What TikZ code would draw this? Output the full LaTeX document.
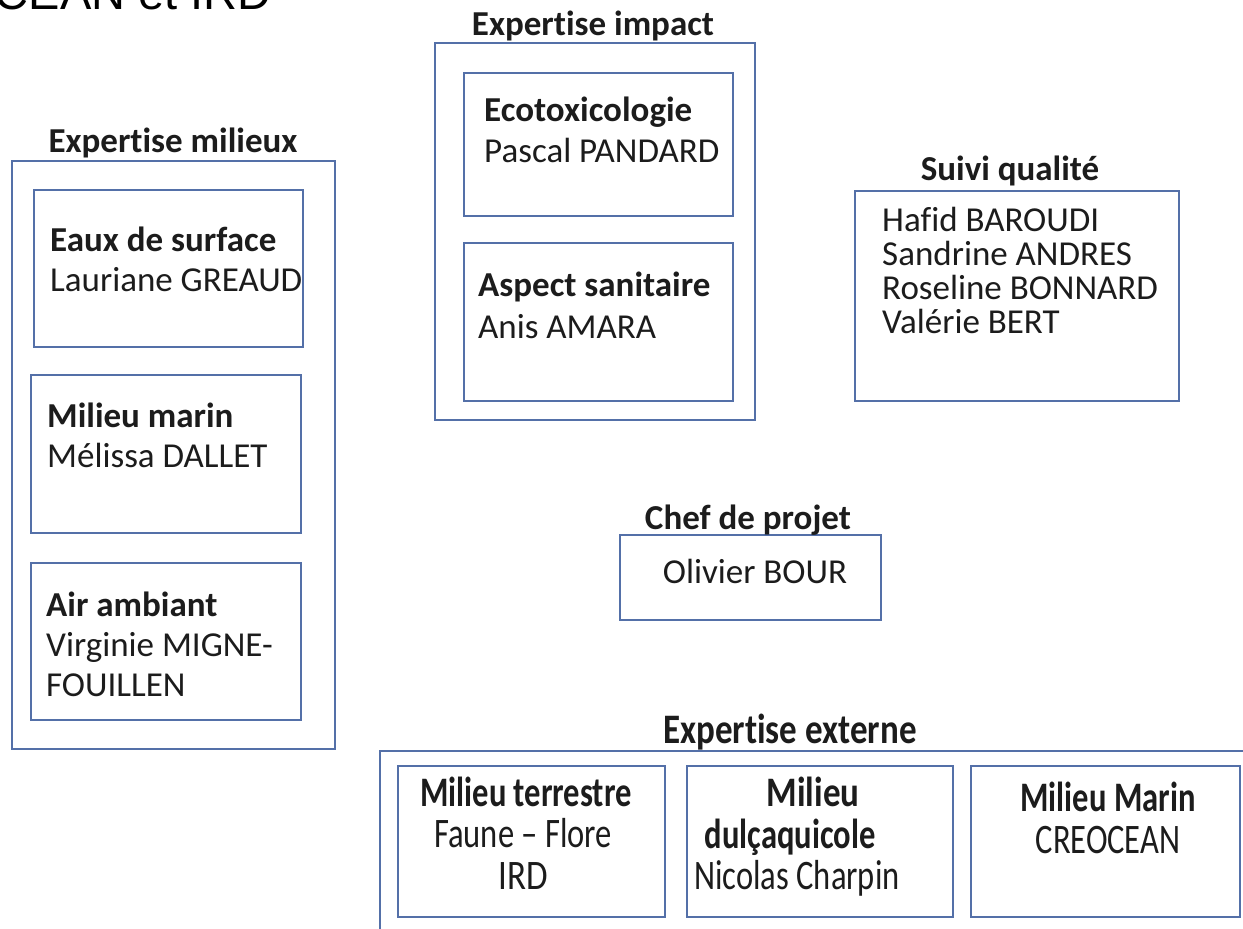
\documentclass[tikz,border=0pt]{standalone}
\usepackage{fontspec}
\setmainfont{Carlito}[Ligatures={NoCommon}]
\newfontfamily\arialfont{Liberation Sans}
\definecolor{boxblue}{RGB}{84,112,168}
\definecolor{txt}{RGB}{28,28,28}
\tikzset{
  frame/.style={draw=boxblue, line width=2pt, inner sep=0pt, anchor=north west},
  lbl/.style={anchor=base west, inner sep=0pt, text=txt, font=\fontsize{35}{41}\selectfont},
  clbl/.style={anchor=base, inner sep=0pt, text=txt, font=\fontsize{35}{41}\selectfont},
  ttl/.style={anchor=base, inner sep=0pt, text=txt, font=\fontsize{35}{41}\selectfont\bfseries},
}
\newcommand{\tall}[1]{\scalebox{1}[1.2]{#1}}
\newcommand{\tallnarrow}[1]{\scalebox{0.93}[1.2]{#1}}
\begin{document}
\begin{tikzpicture}[x=1pt,y=-1pt]
\useasboundingbox (0,0) rectangle (1243,929);
\clip (0,0) rectangle (1243,929);
\fill[white] (0,0) rectangle (1243,929);

% cut-off fragment at top left
\node[anchor=base east, inner sep=0pt, text=black, font=\arialfont\fontsize{47}{52}\selectfont] (frag) at (272,9) {CEAN et IRD};

% Expertise milieux
\node[ttl] (tmil) at (173,152) {Expertise milieux};
\node[frame, minimum width=323pt, minimum height=588pt] (milieux) at (11,160) {};
\node[frame, minimum width=269pt, minimum height=157pt] (eaux) at (33,189) {};
\node[frame, minimum width=270pt, minimum height=158pt] (marin) at (30,374) {};
\node[frame, minimum width=270pt, minimum height=157pt] (air) at (30,562) {};
\node[lbl] (eaux1) at (50,251) {\bfseries Eaux de surface};
\node[lbl] (eaux2) at (50,291) {Lauriane GREAUD};
\node[lbl] (marin1) at (47,427) {\bfseries Milieu marin};
\node[lbl] (marin2) at (47,467) {Mélissa DALLET};
\node[lbl] (air1) at (46,616) {\bfseries Air ambiant};
\node[lbl] (air2) at (46,656) {Virginie MIGNE-};
\node[lbl] (air3) at (46,696) {FOUILLEN};

% Expertise impact
\node[ttl] (timp) at (593,35) {Expertise impact};
\node[frame, minimum width=320pt, minimum height=377pt] (impact) at (434,42) {};
\node[frame, minimum width=269pt, minimum height=143pt] (ecotox) at (463,72) {};
\node[frame, minimum width=269pt, minimum height=158pt] (sanit) at (463,242) {};
\node[lbl] (eco1) at (484,121) {\bfseries Ecotoxicologie};
\node[lbl] (eco2) at (484,162) {Pascal PANDARD};
\node[lbl] (san1) at (478,296) {\bfseries Aspect sanitaire};
\node[lbl] (san2) at (478,338) {Anis AMARA};

% Suivi qualite
\node[ttl] (tsuivi) at (1010,180) {Suivi qualité};
\node[frame, minimum width=324pt, minimum height=210pt] (suivi) at (854,190) {};
\node[lbl] (s1) at (882,231) {Hafid BAROUDI};
\node[lbl] (s2) at (882,265) {Sandrine ANDRES};
\node[lbl] (s3) at (882,299) {Roseline BONNARD};
\node[lbl] (s4) at (882,333) {Valérie BERT};

% Chef de projet
\node[frame, minimum width=261pt, minimum height=85pt] (chef) at (619,534) {};
\node[ttl] (tchef) at (748,529) {Chef de projet};
\node[clbl] (chef1) at (755,583) {Olivier BOUR};

% Expertise externe
\node[ttl] (text) at (790,743) {\tall{Expertise externe}};
\node[frame, minimum width=900pt, minimum height=190pt] (externe) at (379,750) {};
\node[frame, minimum width=267pt, minimum height=151pt] (terre) at (397,765) {};
\node[frame, minimum width=266pt, minimum height=151pt] (dulc) at (686,765) {};
\node[frame, minimum width=269pt, minimum height=151pt] (mmarin) at (970,765) {};
\node[ttl] (te1) at (526,806) {\tallnarrow{Milieu terrestre}};
\node[clbl] (te2) at (523,847) {\tallnarrow{Faune – Flore}};
\node[clbl] (te3) at (523,889) {\tall{IRD}};
\node[ttl] (du1) at (813,806) {\tall{Milieu}};
\node[ttl] (du2) at (790,848) {\tallnarrow{dulçaquicole}};
\node[clbl] (du3) at (797,889) {\tallnarrow{Nicolas Charpin}};
\node[ttl] (ma1) at (1108,811) {\tallnarrow{Milieu Marin}};
\node[clbl] (ma2) at (1108,853) {\tallnarrow{CREOCEAN}};
\end{tikzpicture}
\end{document}
